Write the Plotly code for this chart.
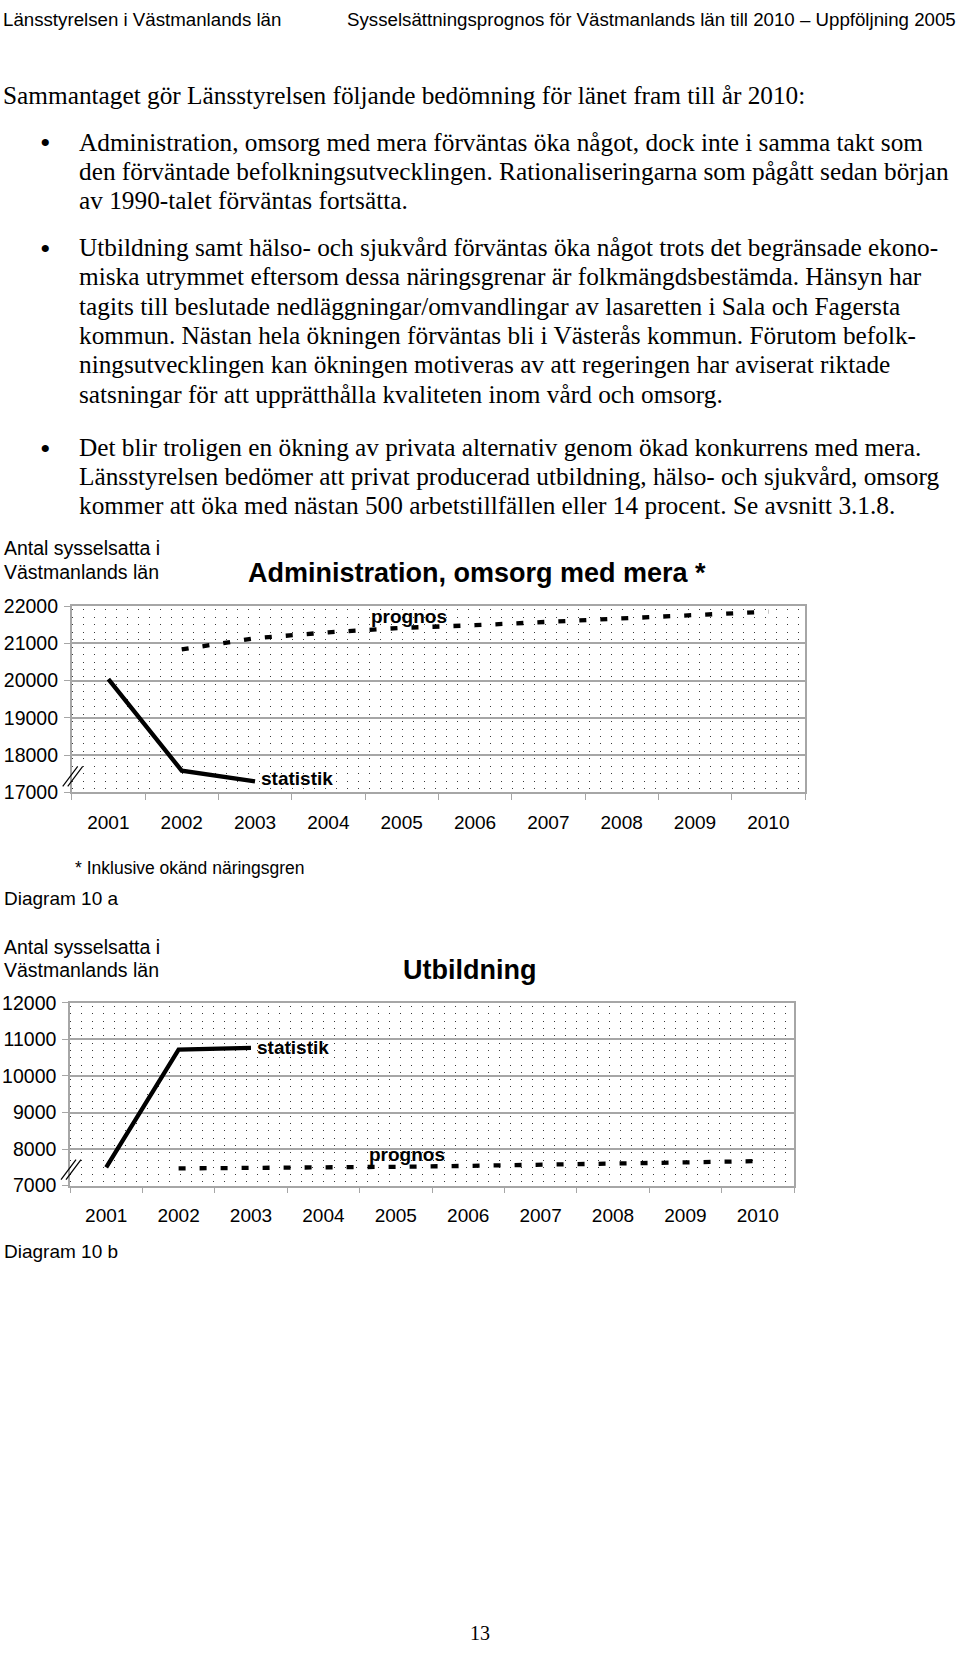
import plotly.graph_objects as go

W, H = 960, 1653

# ---------------- data ----------------
years = ["2001", "2002", "2003", "2004", "2005", "2006", "2007", "2008", "2009", "2010"]
stat_years = ["2001", "2002", "2003"]
prog_years = ["2002", "2003", "2004", "2005", "2006", "2007", "2008", "2009", "2010"]

adm_statistik = [20040, 17580, 17290]
adm_prognos = [20840, 21140, 21300, 21420, 21490, 21575, 21665, 21760, 21855]

utb_statistik = [7500, 10720, 10770]
utb_prognos = [7470, 7480, 7495, 7515, 7540, 7565, 7595, 7635, 7670]

adm_yticks = [17000, 18000, 19000, 20000, 21000, 22000]
utb_yticks = [7000, 8000, 9000, 10000, 11000, 12000]

# ---------------- page text ----------------
header_left = "Länsstyrelsen i Västmanlands län"
header_right = "Sysselsättningsprognos för Västmanlands län till 2010 – Uppföljning 2005"
intro = "Sammantaget gör Länsstyrelsen följande bedömning för länet fram till år 2010:"
bullet1 = [
    "Administration, omsorg med mera förväntas öka något, dock inte i samma takt som",
    "den förväntade befolkningsutvecklingen. Rationaliseringarna som pågått sedan början",
    "av 1990-talet förväntas fortsätta.",
]
bullet2 = [
    "Utbildning samt hälso- och sjukvård förväntas öka något trots det begränsade ekono-",
    "miska utrymmet eftersom dessa näringsgrenar är folkmängdsbestämda. Hänsyn har",
    "tagits till beslutade nedläggningar/omvandlingar av lasaretten i Sala och Fagersta",
    "kommun. Nästan hela ökningen förväntas bli i Västerås kommun. Förutom befolk-",
    "ningsutvecklingen kan ökningen motiveras av att regeringen har aviserat riktade",
    "satsningar för att upprätthålla kvaliteten inom vård och omsorg.",
]
bullet3 = [
    "Det blir troligen en ökning av privata alternativ genom ökad konkurrens med mera.",
    "Länsstyrelsen bedömer att privat producerad utbildning, hälso- och sjukvård, omsorg",
    "kommer att öka med nästan 500 arbetstillfällen eller 14 procent. Se avsnitt 3.1.8.",
]
bullet1_y = [141, 170.3, 199.6]
bullet2_y = [246.5, 275.8, 305.1, 334.4, 363.7, 393]
bullet3_y = [446.5, 475.5, 504]

ylabel_lines = ["Antal sysselsatta i", "Västmanlands län"]
title_a = "Administration, omsorg med mera *"
title_b = "Utbildning"
footnote_a = "* Inklusive okänd näringsgren"
caption_a = "Diagram 10 a"
caption_b = "Diagram 10 b"
page_no = "13"

SANS = "Liberation Sans, Arial, sans-serif"
SERIF = "Liberation Serif, Times New Roman, serif"
BODY = 25.3

# the photographed page shows the paper slightly inset vertically;
# map wanted page-pixel positions to paper positions
VS, VO = 0.9866, 10.5


def px(x):
    return x / W


def py(t):
    y = (t - VO) / VS
    return 1 - y / H


fig = go.Figure()

line_w = 4.3
fig.add_trace(go.Scatter(x=stat_years, y=adm_statistik, mode="lines",
                         line=dict(color="black", width=line_w),
                         xaxis="x", yaxis="y", showlegend=False, hoverinfo="skip"))
fig.add_trace(go.Scatter(x=prog_years, y=adm_prognos, mode="lines",
                         line=dict(color="black", width=line_w, dash="7px,14px"),
                         xaxis="x", yaxis="y", showlegend=False, hoverinfo="skip"))
fig.add_trace(go.Scatter(x=stat_years, y=utb_statistik, mode="lines",
                         line=dict(color="black", width=line_w),
                         xaxis="x2", yaxis="y2", showlegend=False, hoverinfo="skip"))
fig.add_trace(go.Scatter(x=prog_years, y=utb_prognos, mode="lines",
                         line=dict(color="black", width=line_w, dash="7px,14px"),
                         xaxis="x2", yaxis="y2", showlegend=False, hoverinfo="skip"))

grid_col = "#a6a6a6"
xaxis_common = dict(type="category", categoryorder="array", categoryarray=years,
                    range=[-0.5, 9.5], showgrid=False, showline=True, linecolor=grid_col,
                    linewidth=1.5, mirror=True, ticks="outside", tickson="boundaries",
                    ticklen=6, tickcolor=grid_col, tickwidth=1.2,
                    tickfont=dict(family=SANS, size=19, color="black"),
                    ticklabelstandoff=12, zeroline=False, fixedrange=True)


def yaxis_common(rng, ticks):
    return dict(range=rng, tickvals=ticks, ticktext=[str(t) for t in ticks],
                showgrid=True, gridcolor=grid_col, gridwidth=1.5,
                showline=True, linecolor=grid_col, linewidth=1.5, mirror=True,
                ticks="outside", ticklen=6, tickcolor=grid_col, tickwidth=1.2,
                tickfont=dict(family=SANS, size=19.5, color="black"),
                ticklabelstandoff=2,
                zeroline=False, fixedrange=True,
                minor=dict(tick0=rng[0] + 100, dtick=200, showgrid=True,
                           gridcolor="#3a3a3a", gridwidth=1.4, griddash="1.4px,9.6px",
                           ticks=""))


# plot area pixel boxes (page pixels)
A = dict(x0=71.7, x1=805, y0=605.7, y1=791.7)
B = dict(x0=70, x1=794, y0=1002.3, y1=1185)

fig.update_layout(
    width=W, height=H, margin=dict(l=0, r=0, t=0, b=0),
    paper_bgcolor="white", plot_bgcolor="white", showlegend=False,
    xaxis=dict(domain=[px(A["x0"]), px(A["x1"])], anchor="y", **xaxis_common),
    yaxis=dict(domain=[py(A["y1"]), py(A["y0"])], anchor="x",
               **yaxis_common([17000, 22000], adm_yticks)),
    xaxis2=dict(domain=[px(B["x0"]), px(B["x1"])], anchor="y2", **xaxis_common),
    yaxis2=dict(domain=[py(B["y1"]), py(B["y0"])], anchor="x2",
                **yaxis_common([7000, 12000], utb_yticks)),
)

ann = []


def text(x, y, s, size, family=SANS, anchor="left", bold=False, yanchor="middle", yval=None):
    ann.append(dict(x=px(x), y=py(y) if yval is None else yval, xref="paper", yref="paper",
                    text=("<b>%s</b>" % s) if bold else s,
                    showarrow=False, xanchor=anchor, yanchor=yanchor,
                    font=dict(family=family, size=size, color="black")))


# header (as high as the paper allows)
top_y = 1 + 4.0 / H
text(1, 0, header_left, 18.7, yanchor="top", yval=top_y)
text(958, 0, header_right, 18.7, anchor="right", yanchor="top", yval=top_y)

# body
text(1, 94.6, intro, BODY, SERIF)
for lines, ys in ((bullet1, bullet1_y), (bullet2, bullet2_y), (bullet3, bullet3_y)):
    text(45, ys[0] + 1, "•", 30, SERIF, anchor="center")
    for s, yy in zip(lines, ys):
        text(77, yy, s, BODY, SERIF)

# chart a texts
text(2, 547, ylabel_lines[0], 19.5)
text(2, 571, ylabel_lines[1], 19.5)
text(477, 572, title_a, 27, anchor="center", bold=True)
text(73, 867, footnote_a, 17.5)
text(2, 898, caption_a, 19)

# chart b texts
text(2, 946, ylabel_lines[0], 19.5)
text(2, 969, ylabel_lines[1], 19.5)
text(469, 969, title_b, 27, anchor="center", bold=True)
text(2, 1251, caption_b, 19)

# page number (as low as the paper allows)
text(480, 0, page_no, 20, SERIF, anchor="center", yanchor="bottom", yval=-4.0 / H)

# series labels (data coordinates)
lab_font = dict(family=SANS, size=19, color="black")
ann.append(dict(x=4.1, y=21720, xref="x", yref="y", text="<b>prognos</b>", showarrow=False,
                xanchor="center", yanchor="middle", font=lab_font))
ann.append(dict(x=2.05, y=17370, xref="x", yref="y", text="<b>statistik</b>", showarrow=False,
                xanchor="left", yanchor="middle", font=lab_font))
ann.append(dict(x=2.05, y=10780, xref="x2", yref="y2", text="<b>statistik</b>", showarrow=False,
                xanchor="left", yanchor="middle", font=lab_font))
ann.append(dict(x=4.15, y=7840, xref="x2", yref="y2", text="<b>prognos</b>", showarrow=False,
                xanchor="center", yanchor="middle", font=lab_font))

fig.update_layout(annotations=ann)

# axis-break marks "//" at lower left of each plot
shapes = []
for box in (A, B):
    for dx in (0, 5):
        shapes.append(dict(type="line", xref="paper", yref="paper",
                           x0=px(box["x0"] - 9 + dx), y0=py(box["y1"] - 6),
                           x1=px(box["x0"] + 6 + dx), y1=py(box["y1"] - 26),
                           line=dict(color="black", width=1.2)))
fig.update_layout(shapes=shapes)

fig.write_html("out.html", config={"displayModeBar": False},
               post_script="document.body.style.margin='0';")
